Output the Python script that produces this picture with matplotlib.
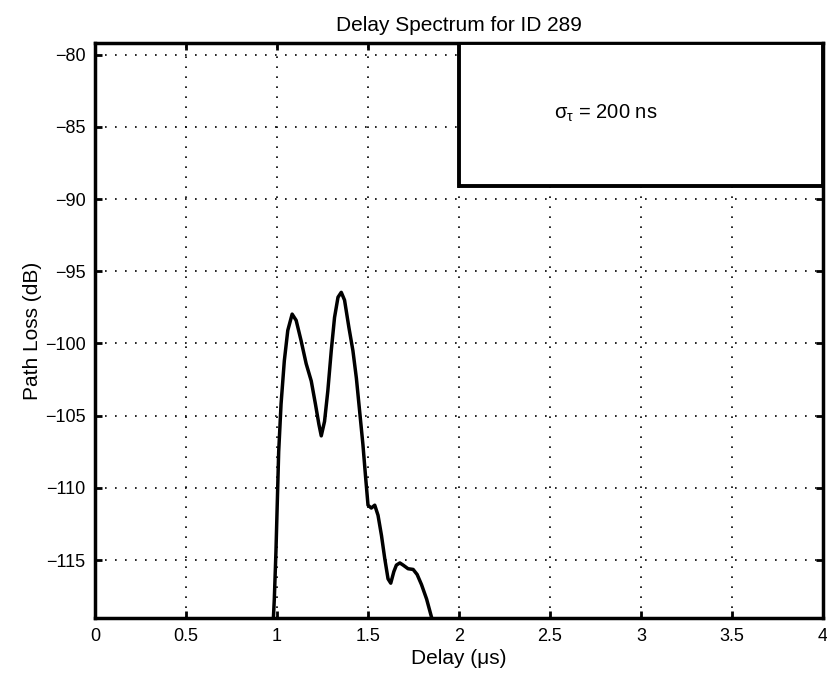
import numpy as np
import matplotlib.pyplot as plt
from matplotlib.patches import Rectangle

plt.rcParams['font.family'] = ['Liberation Sans', 'DejaVu Sans']

# 延迟谱曲线
delay_us = [0.98, 0.985, 0.994, 1.009, 1.022, 1.04, 1.059, 1.083, 1.105, 1.132,
            1.16, 1.188, 1.211, 1.23, 1.243, 1.261, 1.279, 1.298, 1.316, 1.335,
            1.353, 1.371, 1.395, 1.417, 1.436, 1.454, 1.472, 1.487, 1.5, 1.518,
            1.537, 1.555, 1.574, 1.592, 1.61, 1.625, 1.642, 1.656, 1.675, 1.693,
            1.72, 1.748, 1.77, 1.794, 1.822, 1.85]
path_loss_db = [-119.0, -117.7, -114.4, -107.5, -104.2, -101.2, -99.1, -97.97, -98.4, -99.8,
                -101.4, -102.6, -104.2, -105.6, -106.4, -105.4, -103.3, -100.5, -98.2, -96.8,
                -96.46, -97.0, -98.9, -100.5, -102.4, -104.7, -107.0, -109.3, -111.2, -111.4,
                -111.2, -111.9, -113.3, -114.9, -116.3, -116.6, -115.8, -115.35, -115.2, -115.35,
                -115.6, -115.65, -116.0, -116.7, -117.7, -119.0]

x_ticks = [0, 0.5, 1, 1.5, 2, 2.5, 3, 3.5, 4]
x_ticklabels = ['0', '0.5', '1', '1.5', '2', '2.5', '3', '3.5', '4']
y_ticks = [-115, -110, -105, -100, -95, -90, -85, -80]

# 图例框 (σ_τ)
box_x0, box_y0 = 2.0, -89.1
sigma_text = r'$\mathregular{\sigma_\tau}$ = 200 ns'

fig = plt.figure(figsize=(8.27, 6.73), dpi=100)
ax = fig.add_axes([0.115, 0.082, 0.880, 0.854])

ax.plot(delay_us, path_loss_db, color='black', linewidth=2.5, zorder=3)

ax.set_xlim(0, 4)
ax.set_ylim(-119, -79.2)
ax.set_xticks(x_ticks)
ax.set_xticklabels(x_ticklabels)
ax.set_yticks(y_ticks)
ax.set_yticklabels([f'\u2212{abs(v)}' for v in y_ticks])

ax.grid(True, color='black', linestyle=(0, (1, 5)), linewidth=1.2)
ax.tick_params(direction='in', length=5, width=2, top=True, right=True,
               labelsize=13, pad=7)
for sp in ax.spines.values():
    sp.set_linewidth(2.5)

rect = Rectangle((box_x0, box_y0), 4 - box_x0, -79.2 - box_y0,
                 facecolor='white', edgecolor='black', linewidth=2.8, zorder=4)
ax.add_patch(rect)
ax.text(2.52, -84.1, sigma_text, fontsize=14.5, va='center', ha='left', zorder=5)

ax.set_title('Delay Spectrum for ID 289', fontsize=15, pad=9)
ax.set_xlabel('Delay (\u03bcs)', fontsize=15, labelpad=3)
ax.set_ylabel('Path Loss (dB)', fontsize=15, labelpad=2)

fig.savefig('out.png', dpi=100)
